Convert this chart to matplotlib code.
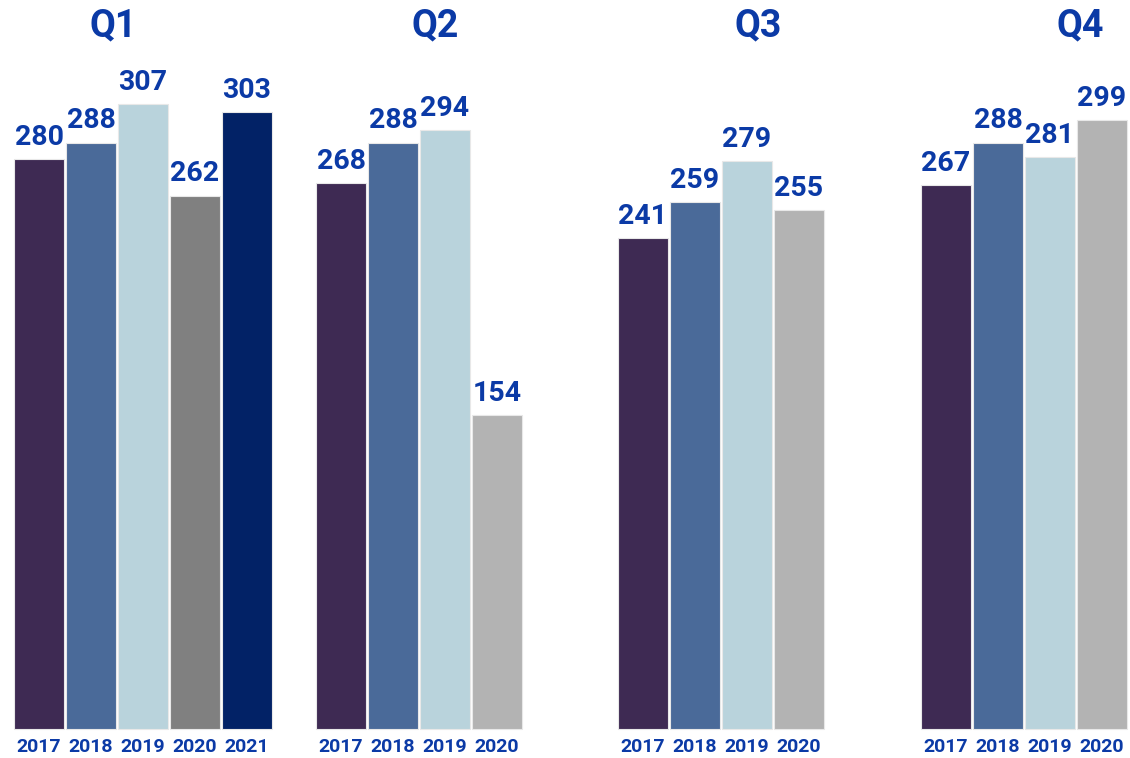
import matplotlib.pyplot as plt
import numpy as np

plt.rcParams['font.family'] = ['Roboto', 'DejaVu Sans']

# data
quarters = ["Q1", "Q2", "Q3", "Q4"]
years = ["2017", "2018", "2019", "2020", "2021"]
q1 = [280, 288, 307, 262, 303]
q2 = [268, 288, 294, 154]
q3 = [241, 259, 279, 255]
q4 = [267, 288, 281, 299]
alle = [q1, q2, q3, q4]

kleur_jaar = ["#3e2a53", "#4a6a99", "#b9d3dc", "#b3b3b3", "#022266"]
kleur_2020_q1 = "#808080"
tekstkleur = "#0b3aa6"

fig = plt.figure(figsize=(11.3, 7.58), dpi=100)
ax = fig.add_axes([0, 0, 1, 1])
ax.set_xlim(0, 1130)
schaal = 2.036  # pixels per eenheid
ax.set_ylim(-(758 - 729) / schaal, 729 / schaal)
ax.axis("off")

groep_start = [14, 316, 618, 921]
titel_x = [113, 435, 758, 1080]
stap = 52
breedte = 50

for g, waarden in enumerate(alle):
    for i, w in enumerate(waarden):
        x = groep_start[g] + i * stap + breedte / 2
        kleur = kleur_jaar[i]
        if g == 0 and i == 3:
            kleur = kleur_2020_q1
        ax.bar(x, w, width=breedte, color=kleur, edgecolor="#e8e8e8", linewidth=0.8)
        ax.text(x, w + 4, str(w), ha="center", va="bottom", color=tekstkleur,
                fontsize=20.5, fontweight="bold")
        ax.text(x, -(747 - 729) / schaal, years[i], ha="center", va="center",
                color=tekstkleur, fontsize=14, fontweight="bold")
    ax.text(titel_x[g], 729 / schaal - 26 / schaal, quarters[g], ha="center", va="center",
            color=tekstkleur, fontsize=27, fontweight="bold")

fig.savefig("out.png", dpi=100)
